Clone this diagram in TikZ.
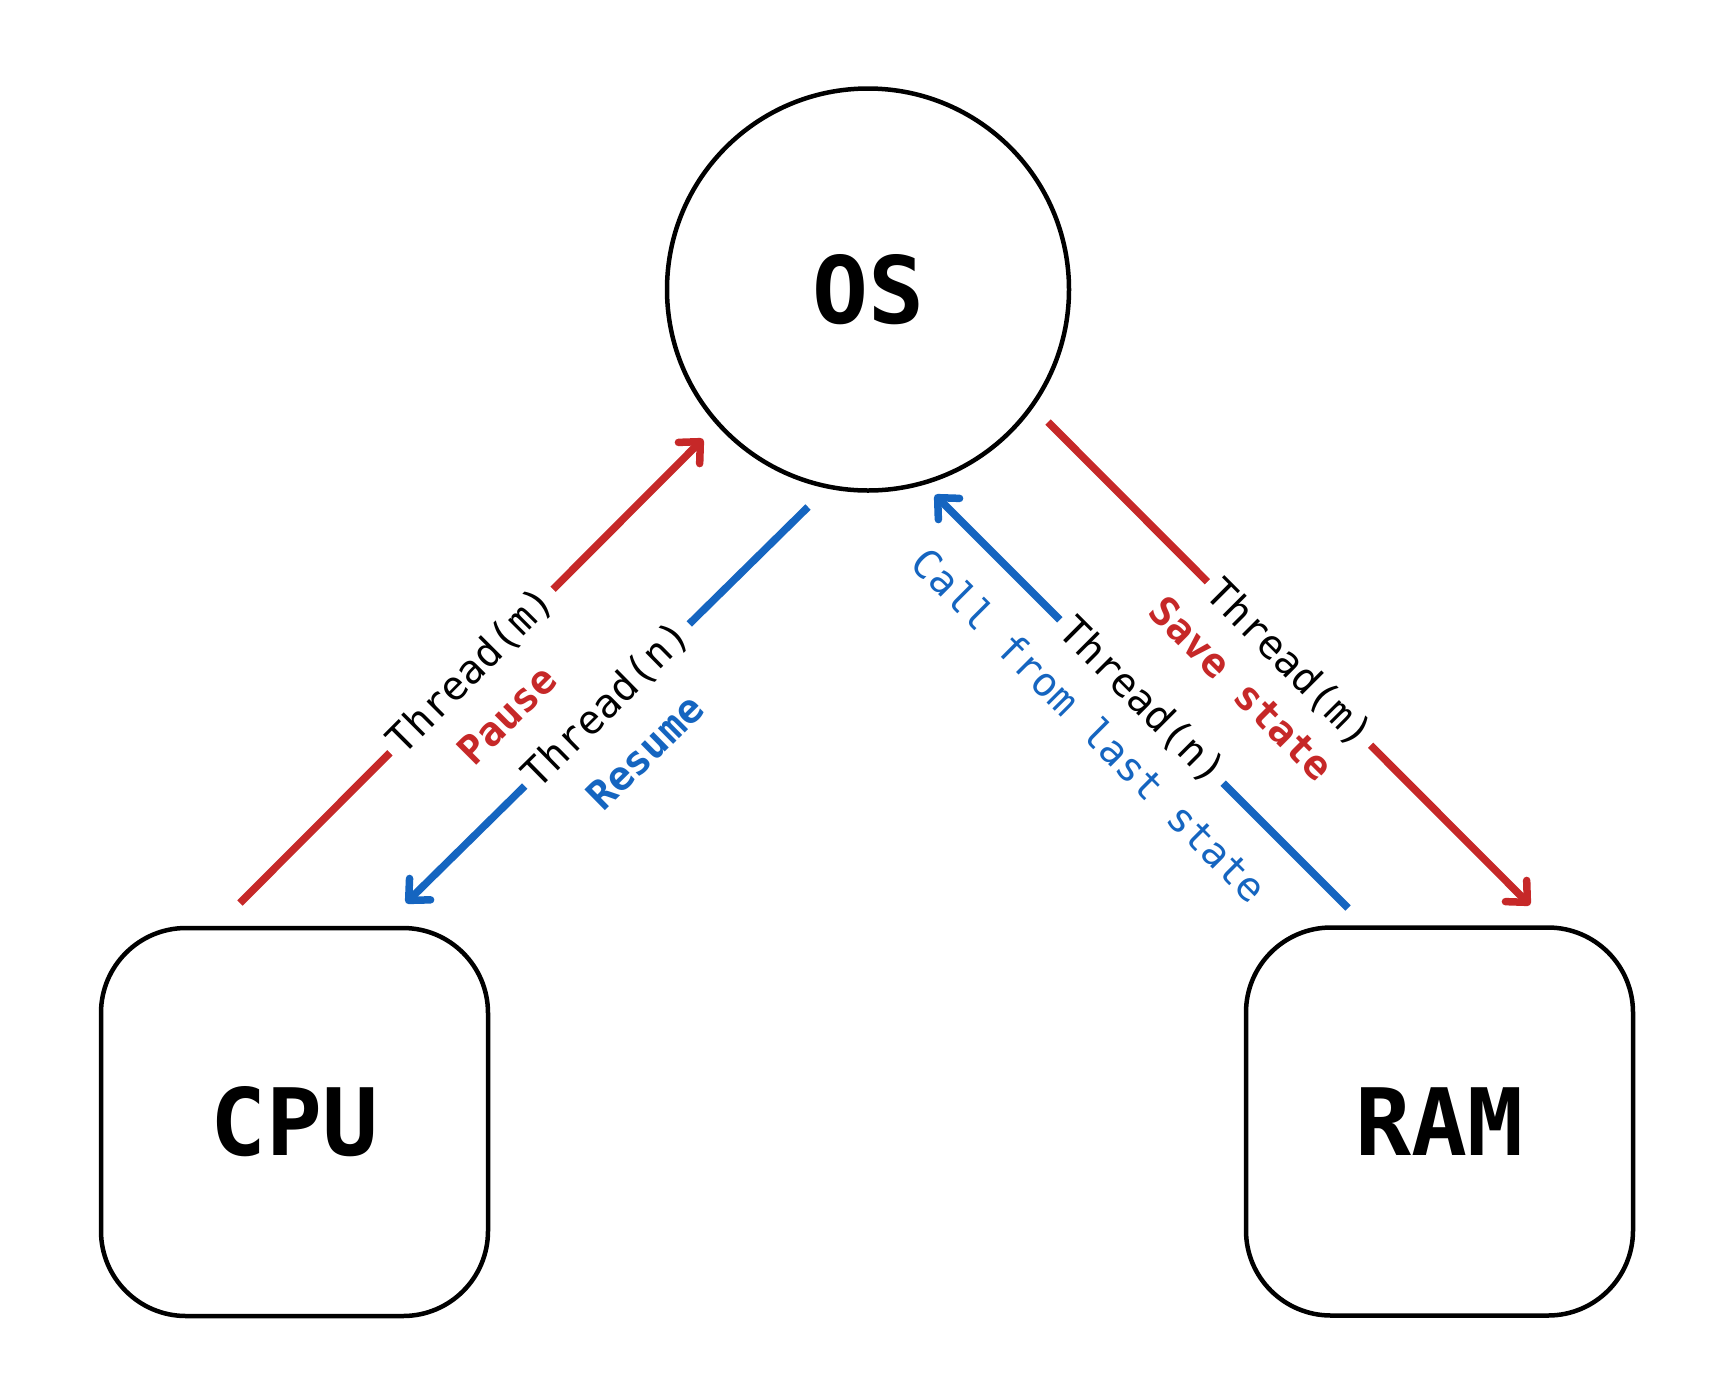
\documentclass[tikz,border=0pt]{standalone}
\usepackage{fontspec}
\setmonofont{DejaVu Sans Mono}
\usetikzlibrary{arrows.meta}
\definecolor{cred}{HTML}{C62828}
\definecolor{cblue}{HTML}{1565C0}
\begin{document}
\begin{tikzpicture}[x=1pt,y=-1pt,
  big/.style={font=\ttfamily\bfseries\fontsize{93}{100}\selectfont},
  boxnode/.style={draw, line width=4.5pt, rounded corners=85pt, minimum width=387pt, minimum height=388pt, inner sep=0pt, big},
  osnode/.style={draw, circle, line width=4.5pt, minimum size=402pt, inner sep=0pt, big},
  conn/.style={line width=7.5pt, -{Straight Barb[length=16pt,width=30pt,line cap=round,line join=round]}},
  thr/.style={font=\ttfamily\fontsize{40}{42}\selectfont, text=black, fill=white, inner xsep=7pt, inner ysep=4pt, sloped, midway},
  sub/.style={font=\ttfamily\fontsize{40}{42}\selectfont, sloped, midway, inner sep=0pt},
  subb/.style={font=\ttfamily\bfseries\fontsize{40}{42}\selectfont, sloped, midway, inner sep=0pt},
]
\useasboundingbox (0,0) rectangle (1731,1398);
\fill[white] (0,0) rectangle (1731,1398);

\node[osnode] (os) at (868,289.5) {OS};
\node[boxnode] (cpu) at (294.5,1122) {CPU};
\node[boxnode] (ram) at (1439.5,1121.5) {RAM};

\coordinate (c1) at (240,903);
\coordinate (o1) at (703,439);
\coordinate (o2) at (808,507);
\coordinate (c2) at (406,903);
\coordinate (o3) at (1048,422);
\coordinate (r3) at (1530,905);
\coordinate (r4) at (1348,908);
\coordinate (o4) at (935,495);

\draw[conn, cred] (c1) -- (o1)
  node[thr] (t1) {Thread(m)}
  node[subb, text=cred, yshift=-56pt, xshift=-6pt] (l1) {Pause};
\draw[conn, cblue] (o2) -- (c2)
  node[thr] (t2) {Thread(n)}
  node[subb, text=cblue, yshift=-60pt, xshift=-6pt] (l2) {Resume};
\draw[conn, cred] (o3) -- (r3)
  node[thr] (t3) {Thread(m)}
  node[subb, text=cred, yshift=-51pt, xshift=-16pt] (l3) {Save state};
\draw[conn, cblue] (r4) -- (o4)
  node[thr] (t4) {Thread(n)}
  node[sub, text=cblue, yshift=-53pt, xshift=-20pt] (l4) {Call from last state};
\end{tikzpicture}
\end{document}
